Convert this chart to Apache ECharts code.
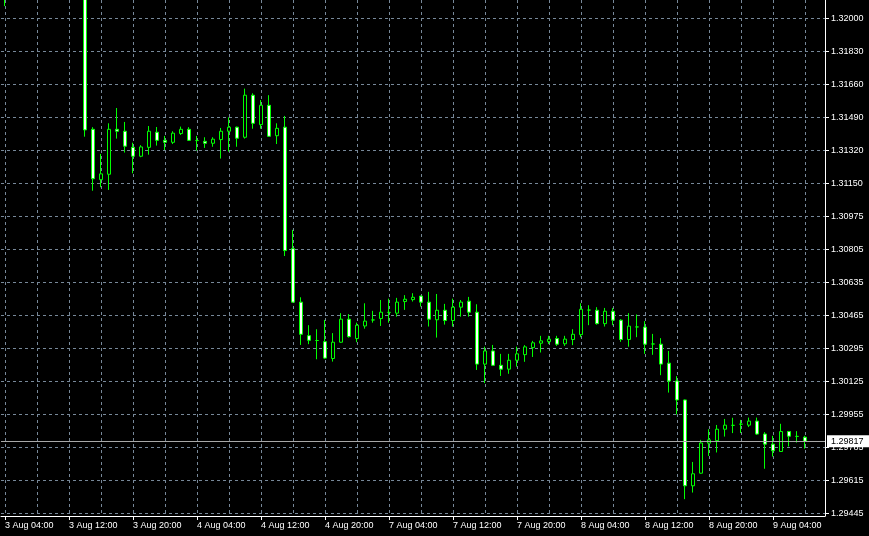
<!DOCTYPE html>
<html>
<head>
<meta charset="utf-8">
<script src="https://cdn.jsdelivr.net/npm/echarts@6/dist/echarts.min.js"></script>
<style>
html,body{margin:0;padding:0;background:#000;}
#chart{width:869px;height:536px;}
</style>
</head>
<body>
<div id="chart"></div>
<script>
// Hourly sessions shown on the time axis: [day, first hour, last hour]
var sessions = [['3 Aug', 4, 23], ['4 Aug', 0, 23], ['7 Aug', 0, 23], ['8 Aug', 0, 23], ['9 Aug', 0, 10]];

// Price axis tick labels (bottom to top)
var yTickLabels = ['1.29445','1.29615','1.29785','1.29955','1.30125','1.30295','1.30465','1.30635',
                   '1.30805','1.30975','1.31150','1.31320','1.31490','1.31660','1.31830','1.32000'];

var currentPrice = 1.29817;

// OHLC per hourly bar (null = bar outside the visible price range)
var opens = [1.32150,null,null,null,null,null,null,null,null,null,
  1.32250,1.31427,1.31167,1.31195,1.31427,1.31417,1.31334,1.31288,1.31334,1.31412,
  1.31370,1.31360,1.31405,1.31427,1.31369,1.31365,1.31355,1.31374,1.31417,1.31438,
  1.31386,1.31603,1.31451,1.31551,1.31394,1.31438,1.30811,1.30535,1.30362,1.30337,
  1.30331,1.30244,1.30328,1.30447,1.30347,1.30412,1.30443,1.30450,1.30482,1.30478,
  1.30538,1.30548,1.30566,1.30535,1.30444,1.30493,1.30440,1.30509,1.30540,1.30483,
  1.30215,1.30283,1.30209,1.30189,1.30235,1.30264,1.30300,1.30323,1.30331,1.30347,
  1.30320,1.30342,1.30367,1.30494,1.30493,1.30424,1.30488,1.30442,1.30342,1.30407,
  1.30406,1.30319,1.30318,1.30220,1.30128,1.30030,1.29587,1.29652,1.29807,1.29820,
  1.29879,1.29899,1.29905,1.29900,1.29921,1.29854,1.29802,1.29764,1.29867,1.29842,
  1.29838];
var closes = [1.32180,null,null,null,null,null,null,null,null,null,
  1.31424,1.31172,1.31197,1.31427,1.31417,1.31340,1.31288,1.31336,1.31417,1.31370,
  1.31360,1.31407,1.31427,1.31370,1.31369,1.31355,1.31376,1.31417,1.31438,1.31381,
  1.31603,1.31458,1.31551,1.31391,1.31432,1.30801,1.30535,1.30369,1.30338,1.30337,
  1.30246,1.30328,1.30447,1.30357,1.30416,1.30437,1.30443,1.30483,1.30482,1.30535,
  1.30550,1.30560,1.30535,1.30447,1.30493,1.30440,1.30509,1.30535,1.30483,1.30215,
  1.30283,1.30209,1.30189,1.30235,1.30268,1.30304,1.30325,1.30335,1.30344,1.30318,
  1.30344,1.30369,1.30498,1.30494,1.30424,1.30488,1.30442,1.30342,1.30411,1.30407,
  1.30318,1.30319,1.30215,1.30128,1.30030,1.29587,1.29649,1.29808,1.29824,1.29879,
  1.29900,1.29899,1.29905,1.29921,1.29854,1.29802,1.29768,1.29867,1.29843,1.29842,
  1.29817];
var lows = [1.32063,null,null,null,null,null,null,null,null,null,
  1.31389,1.31110,1.31128,1.31114,1.31379,1.31307,1.31200,1.31283,1.31296,1.31343,
  1.31320,1.31351,1.31398,1.31367,1.31317,1.31331,1.31337,1.31276,1.31312,1.31337,
  1.31379,1.31430,1.31430,1.31389,1.31351,1.30773,1.30533,1.30314,1.30318,1.30240,
  1.30242,1.30228,1.30325,1.30352,1.30328,1.30398,1.30429,1.30412,1.30429,1.30460,
  1.30495,1.30538,1.30512,1.30409,1.30352,1.30419,1.30409,1.30460,1.30460,1.30185,
  1.30117,1.30205,1.30154,1.30165,1.30202,1.30227,1.30252,1.30275,1.30319,1.30309,
  1.30309,1.30313,1.30354,1.30416,1.30419,1.30409,1.30416,1.30330,1.30305,1.30354,
  1.30268,1.30263,1.30158,1.30068,1.29955,1.29518,1.29552,1.29650,1.29741,1.29759,
  1.29841,1.29859,1.29859,1.29890,1.29850,1.29675,1.29738,1.29762,1.29790,1.29810,
  1.29779];
var highs = [1.32220,null,null,null,null,null,null,null,null,null,
  1.32280,1.31438,1.31300,1.31458,1.31537,1.31465,1.31358,1.31345,1.31444,1.31439,
  1.31393,1.31417,1.31441,1.31438,1.31393,1.31386,1.31386,1.31434,1.31489,1.31441,
  1.31637,1.31613,1.31578,1.31603,1.31458,1.31496,1.30908,1.30560,1.30416,1.30395,
  1.30443,1.30375,1.30478,1.30473,1.30429,1.30529,1.30490,1.30546,1.30553,1.30557,
  1.30571,1.30581,1.30568,1.30588,1.30577,1.30526,1.30553,1.30546,1.30562,1.30524,
  1.30305,1.30314,1.30268,1.30268,1.30305,1.30313,1.30335,1.30361,1.30361,1.30361,
  1.30361,1.30395,1.30529,1.30519,1.30509,1.30505,1.30505,1.30447,1.30478,1.30471,
  1.30437,1.30371,1.30349,1.30283,1.30153,1.30032,1.29710,1.29824,1.29879,1.29901,
  1.29932,1.29938,1.29927,1.29939,1.29939,1.29864,1.29845,1.29907,1.29870,1.29869,
  1.29845];

// ---- build library inputs ----
var categories = [];
sessions.forEach(function (s) {
  for (var h = s[1]; h <= s[2]; h++) {
    categories.push(s[0] + ' ' + (h < 10 ? '0' : '') + h + ':00');
  }
});
var ohlc = opens.map(function (o, i) {
  if (o === null) return '-';
  return [o, closes[i], lows[i], highs[i]];
});

var yLo = parseFloat(yTickLabels[0]);
var yHi = parseFloat(yTickLabels[yTickLabels.length - 1]);
var yStep = (yHi - yLo) / (yTickLabels.length - 1);
var yTickValues = yTickLabels.map(function (s, k) { return yLo + k * yStep; });
var pxPerStep = 33; // grid spacing in the original terminal
var yMin = yLo - yStep * (2.7 / pxPerStep);
var yMax = yHi + yStep * (18.3 / pxPerStep);

var FONT = 'Liberation Sans';
var GRID = '#778899';

var chart = echarts.init(document.getElementById('chart'), null, {renderer: 'canvas'});
chart.setOption({
  backgroundColor: '#000000',
  animation: false,
  grid: {left: 1, right: 44, top: 0, bottom: 20, containLabel: false},
  xAxis: {
    type: 'category',
    data: categories,
    boundaryGap: true,
    axisLine: {show: true, lineStyle: {color: '#ffffff', width: 1}},
    axisTick: {show: true, interval: 7, alignWithLabel: true, length: 4, lineStyle: {color: '#ffffff'}},
    axisLabel: {
      show: true, interval: 7, align: 'left', margin: 5,
      color: '#ffffff', fontFamily: FONT, fontSize: 9
    },
    splitLine: {show: true, interval: 3, alignWithLabel: true, lineStyle: {color: GRID, type: [3, 3], width: 1}}
  },
  yAxis: {
    type: 'value',
    position: 'right',
    scale: true,
    min: yMin,
    max: yMax,
    axisLine: {show: true, lineStyle: {color: '#ffffff', width: 1}},
    axisTick: {show: true, inside: false, length: 4, customValues: yTickValues, lineStyle: {color: '#ffffff'}},
    axisLabel: {
      show: true, margin: 6, customValues: yTickValues,
      color: '#ffffff', fontFamily: FONT, fontSize: 9,
      formatter: function (v) {
        var k = Math.round((v - yLo) / yStep);
        return yTickLabels[k] !== undefined ? yTickLabels[k] : '';
      }
    },
    splitLine: {show: true, lineStyle: {color: GRID, type: [3, 3], width: 1}}
  },
  series: [{
    type: 'candlestick',
    data: ohlc,
    barWidth: 4,
    clip: true,
    itemStyle: {
      color: '#000000',
      color0: '#ffffff',
      borderColor: '#00ff00',
      borderColor0: '#00ff00',
      borderColorDoji: '#00ff00',
      borderWidth: 1
    },
    markLine: {
      silent: true,
      symbol: 'none',
      animation: false,
      precision: 5,
      data: [{yAxis: currentPrice}],
      lineStyle: {color: '#a8a8a8', type: 'solid', width: 1},
      label: {
        show: true, position: 'end', distance: 2,
        formatter: currentPrice.toFixed(5),
        backgroundColor: '#ffffff', color: '#000000',
        fontFamily: FONT, fontSize: 9,
        padding: [2, 6, 1, 4]
      }
    }
  }]
});
</script>
</body>
</html>
